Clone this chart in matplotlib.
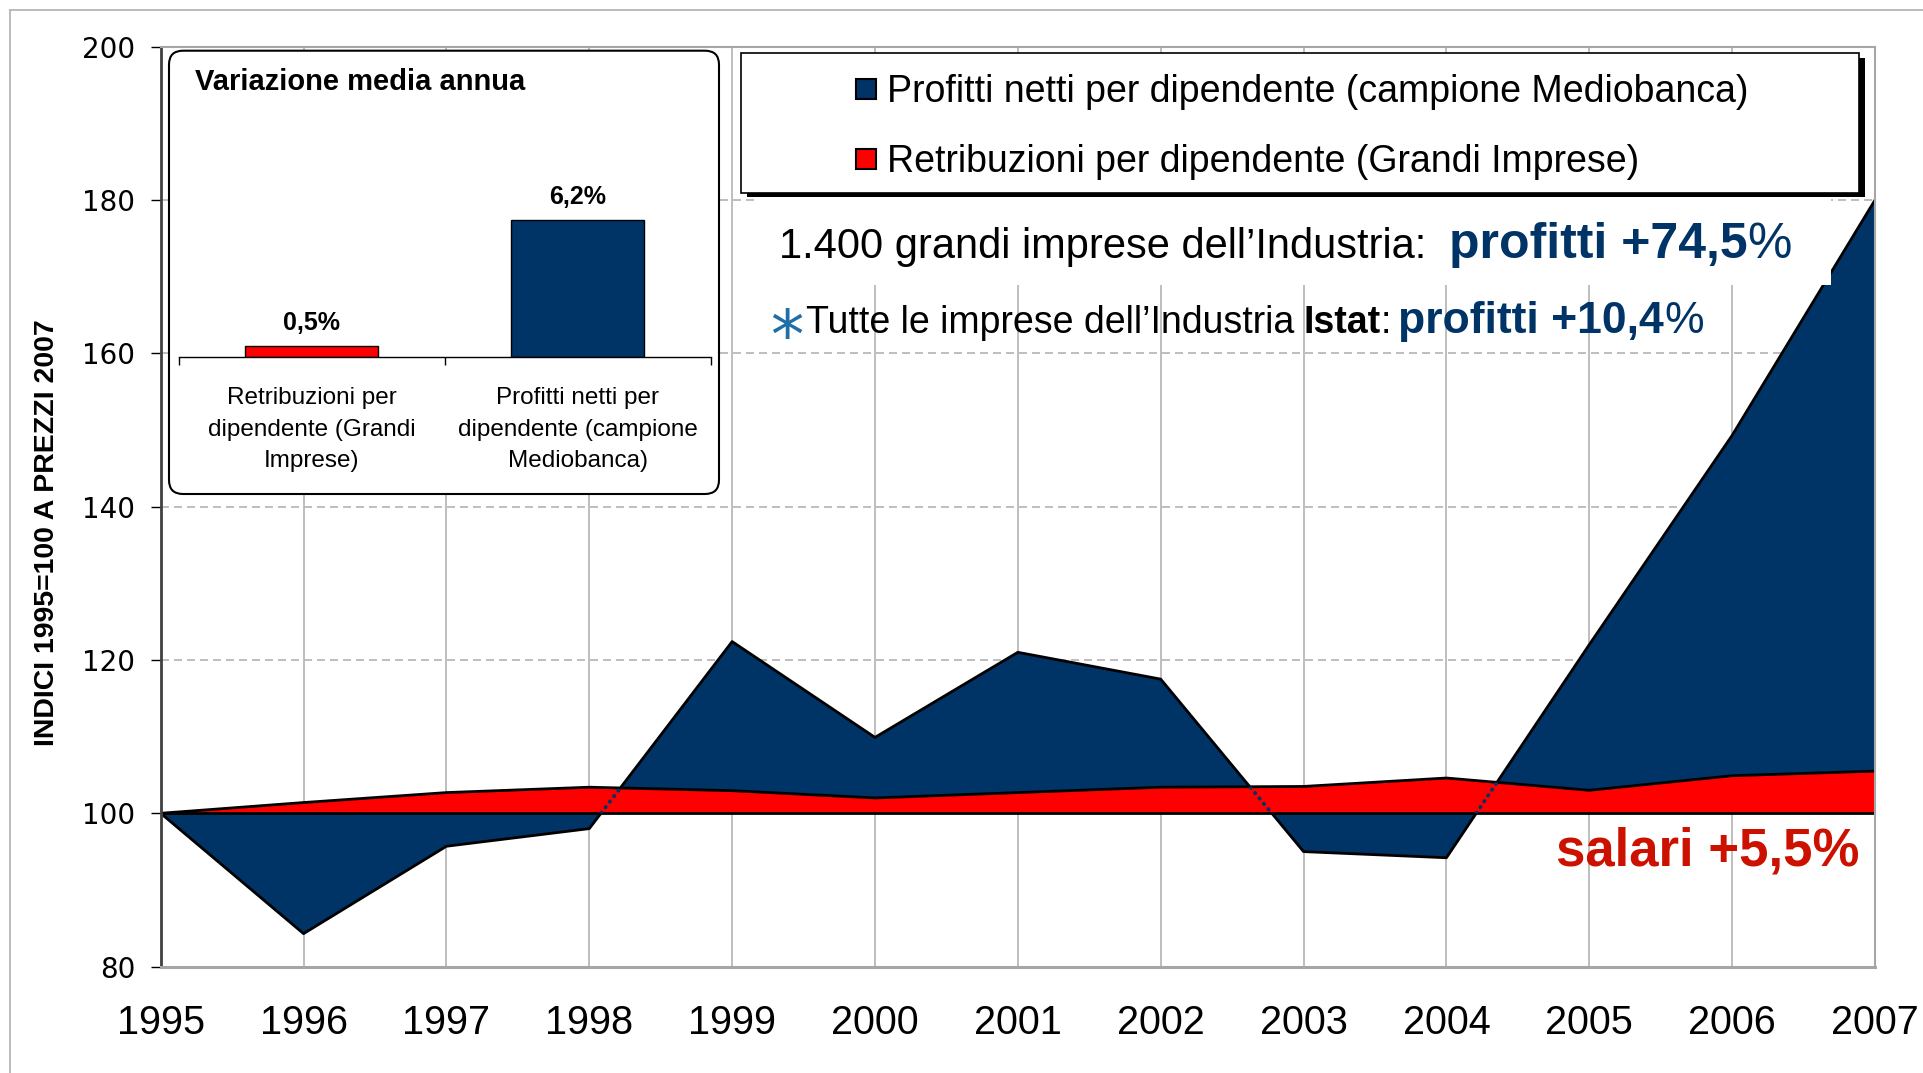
import matplotlib.pyplot as plt
import matplotlib.transforms as mtransforms
from matplotlib.lines import Line2D
from matplotlib.patches import Rectangle, FancyBboxPatch

plt.rcParams['font.family'] = ['Liberation Sans', 'DejaVu Sans']

# data (indici 1995=100)
years = list(range(1995, 2008))
profitti = [100, 84.3, 95.7, 98.0, 122.4, 109.9, 121.0, 117.5, 95.0, 94.2, 122.0, 149.3, 180.0]
retribuzioni = [100, 101.4, 102.7, 103.4, 102.95, 102.0, 102.7, 103.4, 103.5, 104.6, 103.0, 104.9, 105.5]
yticks = [80, 100, 120, 140, 160, 180, 200]

legend_labels = ["Profitti netti per dipendente (campione Mediobanca)",
                 "Retribuzioni per dipendente (Grandi Imprese)"]

inset_cats = ["Retribuzioni per\ndipendente (Grandi\nImprese)",
              "Profitti netti per\ndipendente (campione\nMediobanca)"]
inset_vals = [0.5, 6.2]

W, H = 1924, 1073
NAVY = '#003366'
RED = '#ff0000'
DARKRED = '#cc1100'
GRID = '#b3b3b3'
PIX = mtransforms.IdentityTransform()

fig = plt.figure(figsize=(W / 100, H / 100), dpi=100)

# main plot area (pixel box 160.7..1875 x 46.7..966.6)
ax = fig.add_axes([160.7 / W, 1 - 966.6 / H, 1714.3 / W, 919.9 / H])
ax.set_xlim(1995, 2007)
ax.set_ylim(80, 200)

ax.set_xticks(years, [str(y) for y in years])
ax.set_yticks(yticks, [str(v) for v in yticks], fontfamily='DejaVu Sans')
ax.tick_params(axis='x', length=0, pad=27, labelsize=28.5)
ax.tick_params(axis='y', length=7.2, width=1, pad=11, labelsize=20, direction='out')
ax.xaxis.grid(True, color=GRID, lw=1.2)
ax.yaxis.grid(True, color=GRID, lw=1.2, ls=(0, (4.8, 3)))
ax.set_axisbelow(True)

ax.spines['left'].set_color('#404040')
ax.spines['left'].set_linewidth(2)
for s in ['bottom', 'top', 'right']:
    ax.spines[s].set_color('#a6a6a6')
ax.spines['bottom'].set_linewidth(2.2)
ax.spines['top'].set_linewidth(1.5)
ax.spines['right'].set_linewidth(1.5)
for s in ax.spines.values():
    s.set_zorder(7)

# areas
ax.fill_between(years, 100, profitti, color=NAVY, lw=0, zorder=2)
ax.plot(years, profitti, color='black', lw=2, zorder=2.1)
red = ax.fill_between(years, 100, retribuzioni, color=RED, lw=0, zorder=3)
ax.plot(years, retribuzioni, color='black', lw=2, zorder=3.1)
ax.axhline(100, color='black', lw=2, zorder=3.2)
dots, = ax.plot(years, profitti, color=NAVY, lw=2.8, ls=(0, (0.1, 1.7)),
                dash_capstyle='round', zorder=3.3)
dots.set_clip_path(red.get_paths()[0], ax.transData)

fig.text(46.6 / W, 1 - 533 / H, "INDICI 1995=100 A PREZZI 2007", rotation=90,
         ha='center', va='center', fontsize=20.5, fontweight='bold')

# legend with framed box + black shadow
ax.add_patch(Rectangle((746.7, H - 197.4), 1118, 139.4, transform=PIX, fc='black',
                       ec='none', zorder=4.7, clip_on=False))
ax.add_patch(Rectangle((740.7, H - 192.7), 1118, 139.4, transform=PIX, fc='white',
                       ec='black', lw=1.2, zorder=4.8, clip_on=False))
handles = [Line2D([], [], ls='none', marker='s', ms=15, mfc=c, mec='black', mew=1.5)
           for c in (NAVY, RED)]
leg = ax.legend(handles, legend_labels, loc='upper left',
                bbox_to_anchor=(855 / W, 1 - 74 / H), bbox_transform=fig.transFigure,
                frameon=False, fontsize=27, handlelength=0.6, handletextpad=0.25,
                labelspacing=0.9, borderpad=0, borderaxespad=0)
leg.set_zorder(6)

# white block behind the first annotation line
ax.add_patch(Rectangle((756, H - 285), 1075, 91, transform=PIX, fc='white',
                       ec='none', zorder=4, clip_on=False))

renderer = fig.canvas.get_renderer()


def write_segments(x0, y0, segments):
    x = x0
    for text, gap, kw in segments:
        t = ax.text(x, y0, text, va='baseline', ha='left', zorder=6, **kw)
        bb = t.get_window_extent(renderer)
        x = ax.transData.inverted().transform((bb.x1 + gap, bb.y0))[0]


write_segments(1999.33, 172.4, [
    ("1.400 grandi imprese dell\u2019Industria:", 22, dict(fontsize=30, color='black')),
    ("profitti +74,5", 0, dict(fontsize=36, fontweight='bold', color=NAVY)),
    ("%", 0, dict(fontsize=36, color=NAVY)),
])

ax.text(1999.38, 159.4, "*", ha='center', va='baseline', fontsize=48,
        fontfamily='DejaVu Sans', color='#1f6ea8', zorder=6)
write_segments(1999.52, 162.6, [
    ("Tutte le imprese dell\u2019Industria", 9, dict(fontsize=27, color='black')),
    ("Istat", 0, dict(fontsize=27, fontweight='bold', color='black')),
    (":", 7, dict(fontsize=27, color='black')),
    ("profitti +10,4", 0, dict(fontsize=32, fontweight='bold', color=NAVY)),
    ("%", 0, dict(fontsize=32, color=NAVY)),
])

ax.text(2004.77, 93.16, "salari +5,5%", ha='left', va='baseline', fontsize=38,
        fontweight='bold', color=DARKRED, zorder=6)

# inset: variazione media annua
box = FancyBboxPatch((169, H - 494), 550, 443.3, boxstyle='round,pad=0,rounding_size=14',
                     transform=PIX, fc='white', ec='black', lw=1.5, zorder=1)
fig.add_artist(box)
fig.text(195.3 / W, 1 - 90 / H, "Variazione media annua", va='baseline', ha='left',
         fontsize=21, fontweight='bold', zorder=3)

axi = fig.add_axes([178.9 / W, 1 - 356.7 / H, 532 / W, 176 / H], zorder=2)
axi.patch.set_visible(False)
bars = axi.bar([0, 1], inset_vals, width=0.5, color=[RED, NAVY], edgecolor='black', lw=1)
axi.bar_label(bars, labels=[f"{v:.1f}%".replace('.', ',') for v in inset_vals],
              padding=8, fontsize=18, fontweight='bold')
axi.set_xlim(-0.5, 1.5)
axi.set_ylim(0, 8)
axi.set_yticks([])
axi.set_xticks([0, 1], inset_cats, fontsize=17.5, linespacing=1.55)
axi.set_xticks([-0.5, 0.5, 1.5], minor=True)
axi.tick_params(axis='x', which='major', length=0, pad=22)
axi.tick_params(axis='x', which='minor', length=6, width=1, color='black', direction='out')
for s in ['left', 'top', 'right']:
    axi.spines[s].set_visible(False)
axi.spines['bottom'].set_linewidth(1)

# thin page frame
fig.add_artist(Line2D([10 / W, 10 / W], [0, 1 - 10 / H], color='#b0b0b0', lw=1.2))
fig.add_artist(Line2D([10 / W, 1], [1 - 10 / H, 1 - 10 / H], color='#b0b0b0', lw=1.2))

fig.savefig('out.png', dpi=100)
